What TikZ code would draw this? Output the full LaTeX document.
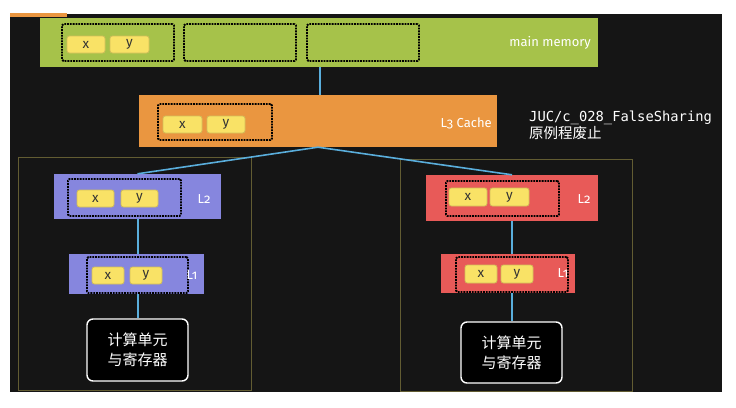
\documentclass[tikz,border=0pt]{standalone}
\usepackage{fontspec}
\setmainfont{Fira Sans}[Numbers=OldStyle]
\newfontfamily\monof{DejaVu Sans Mono}
\newfontfamily\cjk{Noto Sans CJK SC}
\definecolor{board}{HTML}{151515}
\definecolor{memgreen}{HTML}{A6C24A}
\definecolor{l3orange}{HTML}{EA9640}
\definecolor{l2purple}{HTML}{8686DE}
\definecolor{l2red}{HTML}{E85A58}
\definecolor{cellyellow}{HTML}{F9E266}
\definecolor{cellborder}{HTML}{D2BE5A}
\definecolor{wire}{HTML}{5AAEDC}
\definecolor{frameolive}{HTML}{625C32}
\tikzset{
  blk/.style={draw=none, inner sep=0pt},
  dotbox/.style={draw=black, line width=1.8pt, densely dotted, rounded corners=1.5pt, inner sep=0pt},
  cell/.style={fill=cellyellow, draw=cellborder, line width=0.8pt, rounded corners=2.5pt, inner sep=0pt, font=\fontsize{13.5}{13.5}\selectfont, text=black!80},
  wirel/.style={draw=wire, line width=1.6pt},
  lbl/.style={text=white, font=\fontsize{13}{13}\selectfont, inner sep=0pt},
  regbox/.style={fill=black, draw=white, line width=1.4pt, rounded corners=6pt, inner sep=0pt, text=white, align=center, font=\cjk\fontsize{15}{20}\selectfont},
  frm/.style={draw=frameolive, line width=0.9pt}
}
\begin{document}
\begin{tikzpicture}[x=1pt,y=-1pt]
\useasboundingbox (0,0) rectangle (736,407);
\fill[white] (0,0) rectangle (736,407);
\fill[board] (10,14) rectangle (722,392);
\fill[l3orange] (10,13) rectangle (67,17);
% frames
\draw[frm] (18,157) rectangle (251,390);
\draw[frm] (400,159) rectangle (632,391);
% blocks
\node[blk, fill=memgreen, minimum width=558pt, minimum height=49pt] (mem) at (319,42.5) {};
\node[blk, fill=l3orange, minimum width=358pt, minimum height=52pt] (l3) at (318,121) {};
\node[blk, fill=l2purple, minimum width=167pt, minimum height=45pt] (l2a) at (137.5,196.5) {};
\node[blk, fill=l2purple, minimum width=135pt, minimum height=40pt] (l1a) at (136.5,274) {};
\node[blk, fill=l2red, minimum width=172pt, minimum height=46pt] (l2b) at (512,198) {};
\node[blk, fill=l2red, minimum width=134pt, minimum height=39pt] (l1b) at (508,273.5) {};
\node[regbox, minimum width=101pt, minimum height=62pt] (rega) at (137.5,350) {计算单元\\与寄存器};
\node[regbox, minimum width=101pt, minimum height=61pt] (regb) at (511.5,352.5) {计算单元\\与寄存器};
% connectors
\draw[wirel] (mem.south -| 320,0) -- (l3.north -| 320,0);
\draw[wirel] (l3.south) -- (l2a.north);
\draw[wirel] (l3.south) -- (l2b.north);
\draw[wirel] (l2a.south -| 138,0) -- (l1a.north -| 138,0);
\draw[wirel] (l1a.south -| 138,0) -- (rega.north -| 138,0);
\draw[wirel] (l2b.south -| 512,0) -- (l1b.north -| 512,0);
\draw[wirel] (l1b.south -| 512,0) -- (regb.north -| 512,0);
% dotted lines (cache lines)
\node[dotbox, minimum width=112pt, minimum height=37pt] (dm1) at (118,42.5) {};
\node[dotbox, minimum width=112pt, minimum height=37pt] (dm2) at (240,42.5) {};
\node[dotbox, minimum width=112pt, minimum height=37pt] (dm3) at (363,42.5) {};
\node[dotbox, minimum width=114pt, minimum height=36pt] (d3) at (215,122) {};
\node[dotbox, minimum width=113pt, minimum height=37pt] (d2a) at (124.5,197.5) {};
\node[dotbox, minimum width=101pt, minimum height=36pt] (d1a) at (137.5,275) {};
\node[dotbox, minimum width=113pt, minimum height=35pt] (d2b) at (502.5,198.5) {};
\node[dotbox, minimum width=112pt, minimum height=35pt] (d1b) at (512,274.5) {};
% cells
\node[cell, minimum width=38pt, minimum height=17pt] (mx) at (86,44.5) {x};
\node[cell, minimum width=39pt, minimum height=17pt] (my) at (129.5,44.5) {y};
\node[cell, minimum width=39pt, minimum height=17pt] (cx3) at (182.5,124.5) {x};
\node[cell, minimum width=38pt, minimum height=17pt] (cy3) at (226,124.5) {y};
\node[cell, minimum width=37pt, minimum height=17pt] (cx2a) at (95.5,198.5) {x};
\node[cell, minimum width=37pt, minimum height=17pt] (cy2a) at (139.5,198.5) {y};
\node[cell, minimum width=32pt, minimum height=17pt] (cx1a) at (108,275.5) {x};
\node[cell, minimum width=32pt, minimum height=17pt] (cy1a) at (146,275.5) {y};
\node[cell, minimum width=38pt, minimum height=18pt] (cx2b) at (468,197) {x};
\node[cell, minimum width=39pt, minimum height=18pt] (cy2b) at (509.5,197) {y};
\node[cell, minimum width=32pt, minimum height=18pt] (cx1b) at (481,274) {x};
\node[cell, minimum width=32pt, minimum height=18pt] (cy1b) at (517,274) {y};
% labels
\node[lbl, anchor=east] (tmem) at (591,43) {main memory};
\node[lbl, anchor=east] (tl3) at (492,123) {L3 Cache};
\node[lbl] (tl2a) at (204,199) {L2};
\node[lbl] (tl1a) at (192,275) {L1};
\node[lbl] (tl2b) at (584,199) {L2};
\node[lbl] (tl1b) at (563,273) {L1};
\node[anchor=west, text=white, inner sep=0pt, font=\monof\fontsize{13.8}{13.8}\selectfont] (juc) at (529,118) {JUC/c\_028\_FalseSharing};
\node[anchor=west, text=white, inner sep=0pt, font=\cjk\fontsize{14.5}{14.5}\selectfont] (fy) at (529,133) {原例程废止};
\end{tikzpicture}
\end{document}
